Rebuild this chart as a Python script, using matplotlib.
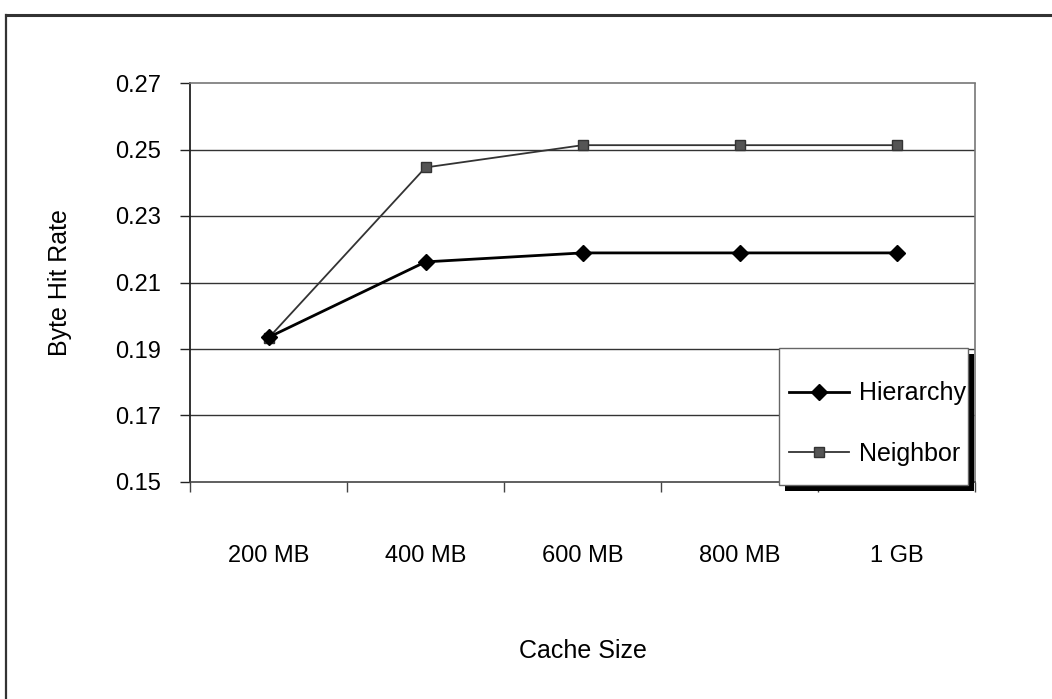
import matplotlib
matplotlib.use("Agg")
import matplotlib.pyplot as plt
from matplotlib.lines import Line2D
from matplotlib.patches import Rectangle

plt.rcParams['font.family'] = ['Liberation Sans', 'DejaVu Sans']

categories = ['200 MB', '400 MB', '600 MB', '800 MB', '1 GB']
hierarchy = [0.1935, 0.2162, 0.2189, 0.2189, 0.2189]
neighbor = [0.1933, 0.2446, 0.2513, 0.2513, 0.2513]
y_ticks = [0.15, 0.17, 0.19, 0.21, 0.23, 0.25, 0.27]

W, H = 1052, 699
fig = plt.figure(figsize=(W / 100, H / 100), dpi=100)
ax = fig.add_axes([190 / W, 1 - 482 / H, 785 / W, 399 / H])

x = list(range(len(categories)))
ax.plot(x, hierarchy, color='black', lw=2.0, marker='D', markersize=8,
        label='Hierarchy', zorder=4)
ax.plot(x, neighbor, color='#333333', lw=1.3, marker='s', markersize=7,
        markerfacecolor='#555555', markeredgecolor='#333333',
        label='Neighbor', zorder=3)

ax.set_xlim(-0.5, len(categories) - 0.5)
ax.set_ylim(0.15, 0.27)
ax.set_yticks(y_ticks)
ax.set_yticklabels(['%.2f' % v for v in y_ticks])
ax.set_xticks(x)
ax.set_xticklabels(categories)
ax.set_xticks([i - 0.5 for i in range(len(categories) + 1)], minor=True)

ax.tick_params(axis='x', which='major', length=0, pad=45, labelsize=17)
ax.tick_params(axis='x', which='minor', length=7, width=1, color='#444444',
               direction='out')
ax.tick_params(axis='y', length=7, width=1, color='#222222', pad=14,
               labelsize=17)

for v in y_ticks[1:-1]:
    ax.axhline(v, color='#333333', lw=1.0, zorder=1)

ax.spines['left'].set_color('#222222')
ax.spines['left'].set_linewidth(1.3)
for side in ['top', 'right', 'bottom']:
    ax.spines[side].set_color('#777777')
    ax.spines[side].set_linestyle((0, (1, 1)))
    ax.spines[side].set_linewidth(1.2)
ax.spines['bottom'].set_color('#444444')

ax.set_xlabel('Cache Size', fontsize=18, labelpad=52)
ax.set_ylabel('Byte Hit Rate', fontsize=18, labelpad=31)

# legend box with Excel-like hard shadow
bx, by, bw, bh = 0.7503, -0.0075, 0.2408, 0.3434
sx, sy = 6 / 785, 6 / 399
ax.add_patch(Rectangle((bx + sx, by - sy), bw, bh, transform=ax.transAxes,
                       facecolor='black', edgecolor='none', clip_on=False,
                       zorder=5))
ax.add_patch(Rectangle((bx, by), bw, bh, transform=ax.transAxes,
                       facecolor='white', edgecolor='#666666', lw=1.0,
                       clip_on=False, zorder=6))
leg = ax.legend(loc='center left', bbox_to_anchor=(0.763, 0.1466),
                borderaxespad=0, borderpad=0, fontsize=18, frameon=False,
                handlelength=2.4, handletextpad=0.4, labelspacing=1.45)
leg.set_zorder(7)

# outer chart frame
fig.add_artist(Line2D([6 / W, 1.0], [1 - 15 / H, 1 - 15 / H],
                      transform=fig.transFigure, color='#333333', lw=2.2))
fig.add_artist(Line2D([6 / W, 6 / W], [0.0, 1 - 15 / H],
                      transform=fig.transFigure, color='#333333', lw=1.6))

fig.savefig('out.png', dpi=100)
